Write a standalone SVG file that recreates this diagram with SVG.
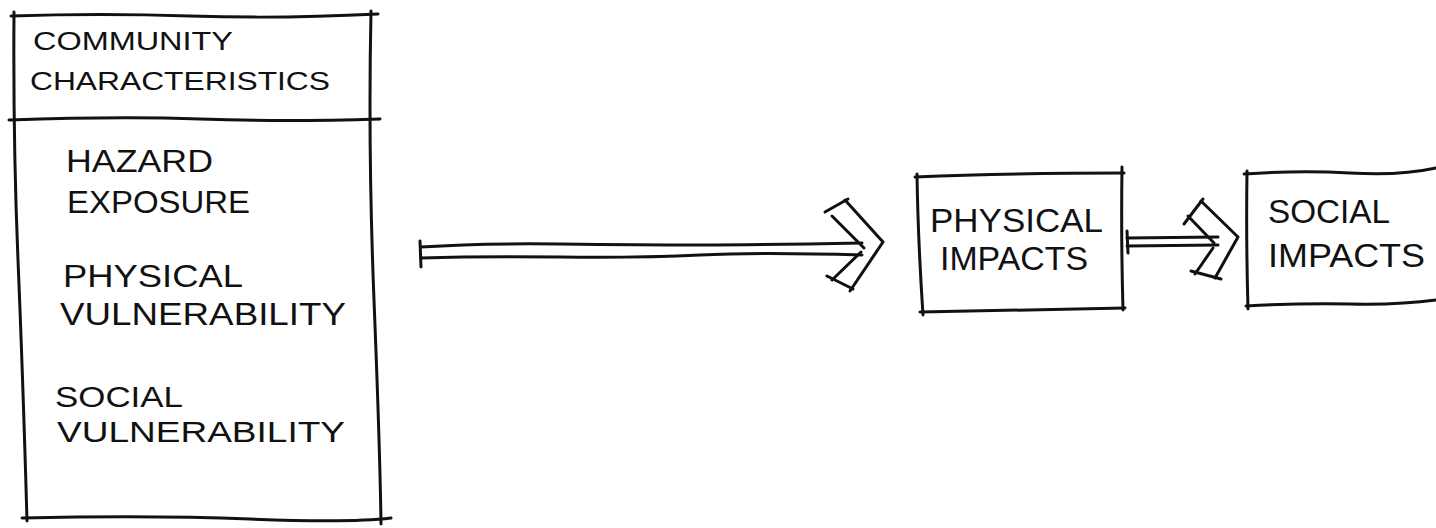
<svg xmlns="http://www.w3.org/2000/svg" width="1436" height="528" viewBox="0 0 1436 528">
<style>
.s{fill:none;stroke:#111;stroke-width:3;stroke-linecap:round;stroke-linejoin:round}
.t{font-family:"Liberation Sans",Arial,sans-serif;fill:#111;font-size:31px}
.h{font-size:25px}
.b{font-size:34px}
</style>
<rect width="1436" height="528" fill="#fff"/>
<g id="community">
<path class="s" d="M11 16 Q100 13 190 16 T378 14"/>
<path class="s" d="M14 12 Q13 140 18 260 T27 521"/>
<path class="s" d="M371 11 Q368 150 374 300 T381 524"/>
<path class="s" d="M9 120 Q120 116 200 119 T380 119"/>
<path class="s" d="M22 518 Q150 515 250 519 T391 518"/>
<text class="t h" x="33" y="50" textLength="200" lengthAdjust="spacingAndGlyphs">COMMUNITY</text>
<text class="t h" x="30" y="90" textLength="300" lengthAdjust="spacingAndGlyphs">CHARACTERISTICS</text>
<text class="t" x="66" y="172" textLength="147" lengthAdjust="spacingAndGlyphs">HAZARD</text>
<text class="t" x="67" y="213" textLength="183" lengthAdjust="spacingAndGlyphs">EXPOSURE</text>
<text class="t" x="63" y="287" textLength="180" lengthAdjust="spacingAndGlyphs">PHYSICAL</text>
<text class="t" x="60" y="325" textLength="286" lengthAdjust="spacingAndGlyphs">VULNERABILITY</text>
<text class="t" x="55" y="407" textLength="128" lengthAdjust="spacingAndGlyphs" style="font-size:29px">SOCIAL</text>
<text class="t" x="57" y="442" textLength="288" lengthAdjust="spacingAndGlyphs" style="font-size:29px">VULNERABILITY</text>
</g>
<g id="physical">
<path class="s" d="M915 177 Q1010 173 1124 173"/>
<path class="s" d="M917 174 Q918 240 923 315"/>
<path class="s" d="M1122 167 Q1121 240 1123 310"/>
<path class="s" d="M920 312 Q1020 310 1125 308"/>
<text class="t b" x="930" y="232" textLength="173" lengthAdjust="spacingAndGlyphs">PHYSICAL</text>
<text class="t b" x="940" y="270" textLength="148" lengthAdjust="spacingAndGlyphs">IMPACTS</text>
</g>
<g id="social">
<path class="s" d="M1244 174 Q1300 170 1350 173 T1436 168"/>
<path class="s" d="M1247 171 Q1246 240 1248 309"/>
<path class="s" d="M1246 306 Q1300 303 1350 304 T1436 300"/>
<text class="t b" x="1268" y="223" textLength="122" lengthAdjust="spacingAndGlyphs">SOCIAL</text>
<text class="t b" x="1268" y="267" textLength="157" lengthAdjust="spacingAndGlyphs">IMPACTS</text>
</g>
<g id="connectors">
<path class="s" d="M420 241 L421 267"/>
<path class="s" d="M421 247 Q480 243 560 244 T700 245 T862 243"/>
<path class="s" d="M421 258 Q480 256 560 257 T700 255 T862 255"/>
<path class="s" d="M825 212 L848 199"/>
<path class="s" d="M845 200 L883 242 L850 291"/>
<path class="s" d="M832 216 L864 248"/>
<path class="s" d="M861 252 L832 280"/>
<path class="s" d="M827 276 L853 289"/>
<path class="s" d="M1127 231 L1128 253"/>
<path class="s" d="M1127 238 L1218 237"/>
<path class="s" d="M1127 246 L1218 245"/>
<path class="s" d="M1184 224 L1203 199"/>
<path class="s" d="M1201 201 L1238 237 L1215 278"/>
<path class="s" d="M1188 216 L1214 243"/>
<path class="s" d="M1213 248 L1195 274"/>
<path class="s" d="M1191 271 L1221 279"/>
</g>
</svg>
